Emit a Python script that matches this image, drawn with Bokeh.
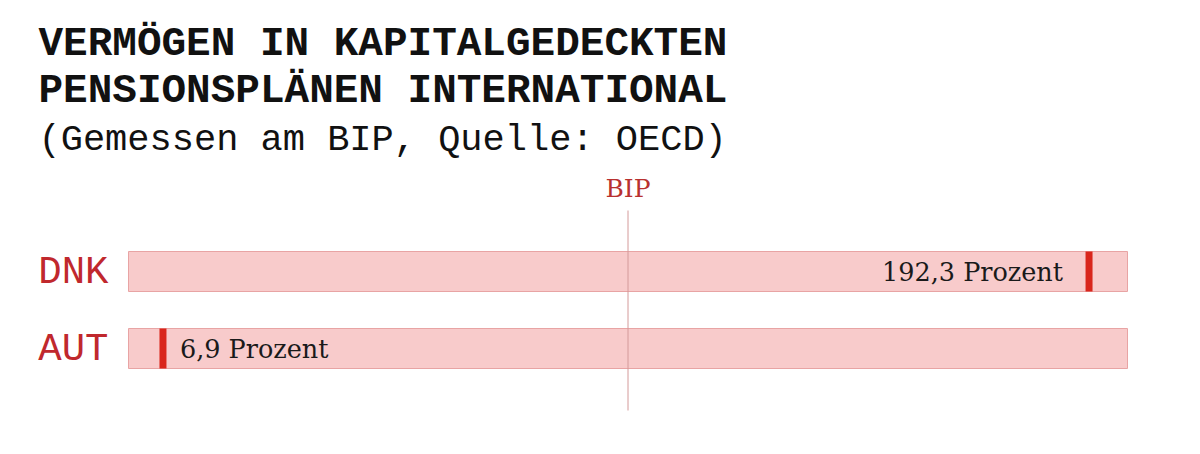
from bokeh.plotting import figure
from bokeh.models import Range1d, Label, ColumnDataSource
from bokeh.core.properties import value
from bokeh.embed import file_html
from bokeh.resources import INLINE

# ---- data ----
countries = ["AUT", "DNK"]          # bottom to top
values = [6.9, 192.3]               # % of GDP
value_labels = ["6,9 Prozent", "192,3 Prozent"]
scale_max = 200                     # background bar = 200 % of GDP
bip_value = 100
title_lines = ["VERMÖGEN IN KAPITALGEDECKTEN", "PENSIONSPLÄNEN INTERNATIONAL"]
subtitle = "(Gemessen am BIP, Quelle: OECD)"
bip_label = "BIP"

# ---- layout ----
W, H = 1184, 438
x0_px, x1_px = 128, 1127            # canvas px of 0 and scale_max
ppu = (x1_px - x0_px) / scale_max
row_px = 77
aut_from_bottom = H - 348
y_start = -aut_from_bottom / row_px
y_end = y_start + H / row_px

def ypx(canvas_y):
    return y_start + (H - canvas_y) / row_px

p = figure(width=W, height=H, output_backend="svg", toolbar_location=None,
           x_range=Range1d(-x0_px / ppu, scale_max + (W - x1_px) / ppu),
           y_range=Range1d(y_start, y_end), min_border=0)
p.axis.visible = False
p.grid.visible = False
p.outline_line_color = None
p.background_fill_color = "white"
p.border_fill_color = "white"

idx = list(range(len(countries)))
bar_h = 40 / row_px
src = ColumnDataSource(dict(y=idx, v=values, lab=value_labels, c=countries,
                            full=[scale_max] * len(countries)))

# background bars
p.hbar(y="y", left=0, right="full", height=bar_h, source=src,
       fill_color="#f8cbcb", line_color="#e8a4a4", line_width=1)

# BIP line
p.segment(x0=[bip_value], y0=[ypx(410)], x1=[bip_value], y1=[ypx(210)],
          line_color="#d49a9a", line_width=1)

# value markers
p.rect(x="v", y="y", width=7, width_units="screen", height=bar_h, source=src,
       fill_color="#d9261c", line_color=None)

# value labels
for i, v in enumerate(values):
    right = v > bip_value
    p.text(x=[v], y=[i], text=[value_labels[i]],
           text_align="right" if right else "left",
           text_baseline="middle", x_offset=-26 if right else 17, y_offset=0,
           text_font=value("DejaVu Serif"), text_font_size="25.5px",
           text_color="#1a1a1a")

# country labels
p.text(x=0, y="y", text="c", source=src, text_align="right",
       text_baseline="middle", x_offset=-20, y_offset=1.5,
       text_font=value("Liberation Mono"), text_font_size="39px",
       text_color="#c0282d")

# BIP label
p.add_layout(Label(x=bip_value, y=H - 188, y_units="screen", text=bip_label,
                   text_align="center", text_baseline="alphabetic",
                   text_font="DejaVu Serif", text_font_size="25px",
                   text_color="#b8312f"))

# titles
for j, t in enumerate(title_lines):
    p.add_layout(Label(x=38, y=H - (43.5 + 46.5 * j), x_units="screen", y_units="screen",
                       text=t, text_font="Liberation Mono", text_font_size="41px",
                       text_font_style="bold", text_color="#111111",
                       text_baseline="alphabetic"))
p.add_layout(Label(x=38, y=H - 139, x_units="screen", y_units="screen",
                   text=subtitle, text_font="Liberation Mono", text_font_size="37px",
                   text_color="#111111", text_baseline="alphabetic"))

open("out.html", "w").write(file_html(p, INLINE))
